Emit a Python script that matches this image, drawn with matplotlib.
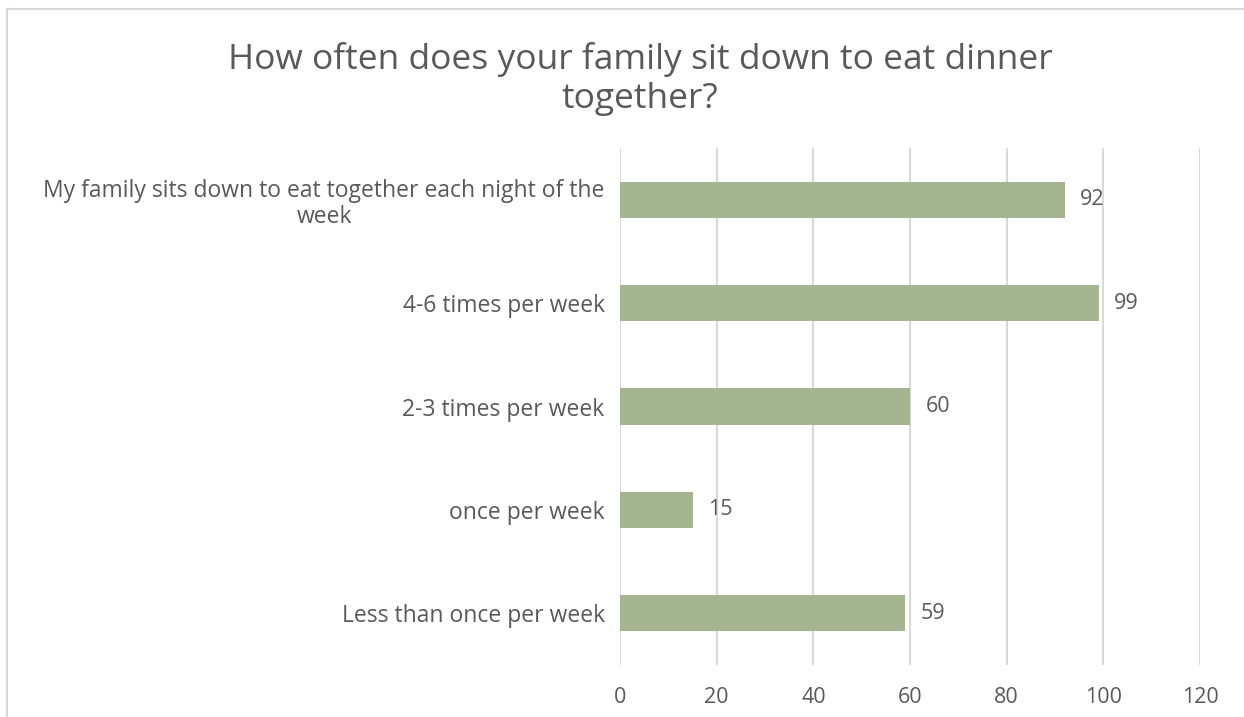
import matplotlib
matplotlib.use("Agg")
import matplotlib.pyplot as plt
from matplotlib.lines import Line2D

categories = [
    "My family sits down to eat together each night of the\nweek",
    "4-6 times per week",
    "2-3 times per week",
    "once per week",
    "Less than once per week",
]
values = [92, 99, 60, 15, 59]
x_ticks = [0, 20, 40, 60, 80, 100, 120]
title = "How often does your family sit down to eat dinner\ntogether?"

TEXT = "#595959"
BAR = "#A5B592"
GRID = "#D9D9D9"

plt.rcParams["font.family"] = ["Open Sans", "DejaVu Sans"]

fig = plt.figure(figsize=(12.44, 7.17), dpi=100)
W, H = 1244, 717

# chart frame: only its top and left edges fall inside the image
fig.add_artist(Line2D([7.5 / W, 1.01], [1 - 8.5 / H, 1 - 8.5 / H],
                      transform=fig.transFigure, color="#D9D9D9", linewidth=1.5))
fig.add_artist(Line2D([7.5 / W, 7.5 / W], [-0.01, 1 - 8.5 / H],
                      transform=fig.transFigure, color="#D9D9D9", linewidth=1.5))

ax = fig.add_axes([620 / W, (H - 665) / H, 580 / W, (665 - 148) / H])

ypos = list(range(len(categories)))
ax.barh(ypos, values, height=0.35, color=BAR, zorder=3)
ax.set_ylim(len(categories) - 0.5, -0.5)
ax.set_xlim(0, 120)
ax.set_xticks(x_ticks)
ax.set_xticklabels([str(t) for t in x_ticks])
ax.set_yticks(ypos)
ax.set_yticklabels(categories)
for lbl in ax.get_yticklabels():
    lbl.set_multialignment("center")
    lbl.set_linespacing(1.1)

ax.grid(axis="x", color=GRID, linewidth=1.5, zorder=0)
ax.set_axisbelow(True)
for s in ax.spines.values():
    s.set_visible(False)
ax.tick_params(axis="both", length=0, colors=TEXT)
ax.tick_params(axis="x", labelsize=15.5, pad=16)
ax.tick_params(axis="y", labelsize=16.5, pad=11)

for y, v in zip(ypos, values):
    ax.annotate(str(v), xy=(v, y), xytext=(11, 0), textcoords="offset points",
                ha="left", va="center", fontsize=15.5, color=TEXT)

fig.text(640 / W, 1 - 79 / H, title, ha="center", va="center",
         fontsize=25.5, color=TEXT, linespacing=1.22)

fig.savefig("out.png", dpi=100)
